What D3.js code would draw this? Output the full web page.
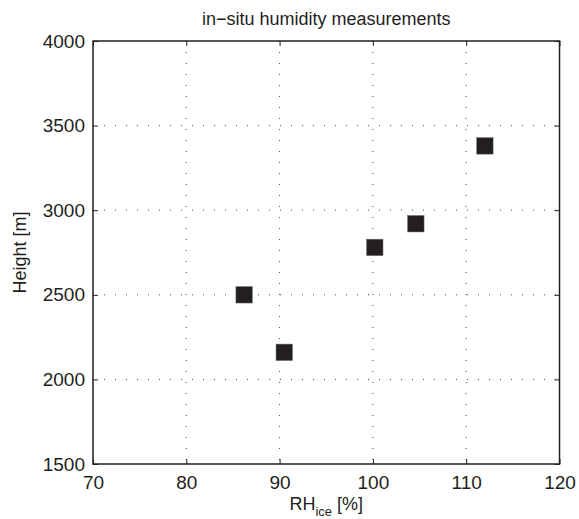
<!DOCTYPE html>
<html>
<head>
<meta charset="utf-8">
<script src="https://cdn.jsdelivr.net/npm/d3@7"></script>
<style>
  body { margin: 0; background: #fff; }
  text { font-family: "Liberation Sans", Arial, sans-serif; fill: #231f20; }
</style>
</head>
<body>
<div id="chart"></div>
<script>
var rhIce = [86.2, 90.5, 100.2, 104.6, 112.0];
var heights = [2500, 2160, 2780, 2920, 3380];
var xTicks = [70, 80, 90, 100, 110, 120];
var yTicks = [1500, 2000, 2500, 3000, 3500, 4000];

var W = 579, H = 519;
var margin = { top: 41, right: 19.5, bottom: 55, left: 93 },
    width = W - margin.left - margin.right,
    height = H - margin.top - margin.bottom;

var svg = d3.select("#chart")
    .append("svg")
    .attr("width", W)
    .attr("height", H)
    .append("g")
    .attr("transform", "translate(" + margin.left + "," + margin.top + ")");

var x = d3.scaleLinear().domain([70, 120]).range([0, width]);
var y = d3.scaleLinear().domain([1500, 4000]).range([height, 0]);

// dotted grid
svg.selectAll(".vgrid")
    .data(xTicks.slice(1, -1))
    .enter()
    .append("line")
    .attr("x1", d => x(d)).attr("x2", d => x(d))
    .attr("y1", 0).attr("y2", height)
    .style("stroke", "#444")
    .style("stroke-width", 1)
    .style("stroke-dasharray", "1,10");

svg.selectAll(".hgrid")
    .data(yTicks.slice(1, -1))
    .enter()
    .append("line")
    .attr("x1", 0).attr("x2", width)
    .attr("y1", d => y(d)).attr("y2", d => y(d))
    .style("stroke", "#444")
    .style("stroke-width", 1)
    .style("stroke-dasharray", "1,10");

// axes with inward ticks, on all sides
function styleAxis(g) {
    g.select(".domain").remove();
    g.selectAll("line").style("stroke", "#231f20");
    g.selectAll("text").style("font-size", "19px")
        .style("font-family", "Liberation Sans, Arial, sans-serif")
        .attr("fill", "#231f20");
}

svg.append("g")
    .attr("transform", "translate(0," + height + ")")
    .call(d3.axisBottom(x).tickValues(xTicks).tickSizeInner(-5).tickSizeOuter(0)
        .tickPadding(12).tickFormat(d3.format("d")))
    .call(styleAxis);

svg.append("g")
    .call(d3.axisTop(x).tickValues(xTicks).tickSizeInner(-5).tickSizeOuter(0).tickFormat(""))
    .call(styleAxis);

svg.append("g")
    .call(d3.axisLeft(y).tickValues(yTicks).tickSizeInner(-5).tickSizeOuter(0)
        .tickPadding(8).tickFormat(d3.format("d")))
    .call(styleAxis);

svg.append("g")
    .attr("transform", "translate(" + width + ",0)")
    .call(d3.axisRight(y).tickValues(yTicks).tickSizeInner(-5).tickSizeOuter(0).tickFormat(""))
    .call(styleAxis);

// box
svg.append("rect")
    .attr("x", 0).attr("y", 0)
    .attr("width", width).attr("height", height)
    .style("fill", "none")
    .style("stroke", "#231f20")
    .style("stroke-width", 1.5);

// markers
var size = 16.5;
svg.selectAll(".pt")
    .data(rhIce.map((v, i) => ({ rh: v, h: heights[i] })))
    .enter()
    .append("rect")
    .attr("x", d => x(d.rh) - size / 2)
    .attr("y", d => y(d.h) - size / 2)
    .attr("width", size)
    .attr("height", size)
    .style("fill", "#231f20")
    .style("stroke", "#777")
    .style("stroke-width", 0.5);

// title & labels
svg.append("text")
    .attr("x", width / 2)
    .attr("y", -16)
    .attr("text-anchor", "middle")
    .style("font-size", "18px")
    .text("in\u2212situ humidity measurements");

var xl = svg.append("text")
    .attr("x", width / 2)
    .attr("y", height + 46)
    .attr("text-anchor", "middle")
    .style("font-size", "18px");
xl.append("tspan").text("RH");
xl.append("tspan").attr("dy", 6).style("font-size", "13px").text("ice");
xl.append("tspan").attr("dy", -6).text(" [%]");

svg.append("text")
    .attr("transform", "translate(-67," + (height / 2) + ") rotate(-90)")
    .attr("text-anchor", "middle")
    .style("font-size", "18px")
    .text("Height [m]");
</script>
</body>
</html>
